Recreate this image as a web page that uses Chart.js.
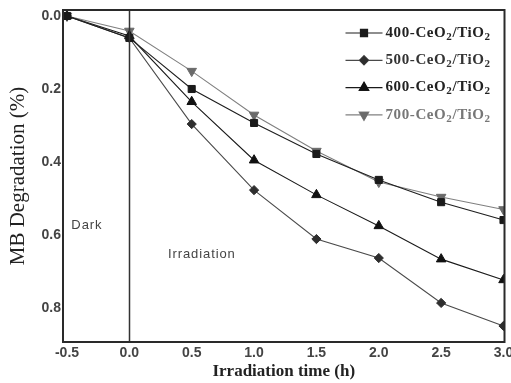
<!DOCTYPE html>
<html>
<head>
    <title>MB Degradation</title>
    <script src="https://cdn.jsdelivr.net/npm/chart.js"></script>
    <style>
        body { margin: 0; background: #fff; }
        #wrap { width: 511px; height: 383px; }
    </style>
</head>
<body>
    <div id="wrap"><canvas id="chart" width="511" height="383"></canvas></div>
    <script>
        const times = [-0.5, 0.0, 0.5, 1.0, 1.5, 2.0, 2.5, 3.0];
        const xTicks = [-0.5, 0.0, 0.5, 1.0, 1.5, 2.0, 2.5, 3.0];
        const yTicks = [0.0, 0.2, 0.4, 0.6, 0.8];
        const labels = ['400-CeO₂/TiO₂', '500-CeO₂/TiO₂', '600-CeO₂/TiO₂', '700-CeO₂/TiO₂'];
        const s400 = [0.0, 0.06, 0.20, 0.293, 0.378, 0.449, 0.51, 0.559];
        const s500 = [0.0, 0.06, 0.296, 0.477, 0.611, 0.663, 0.786, 0.849];
        const s600 = [0.0, 0.055, 0.235, 0.395, 0.49, 0.575, 0.666, 0.723];
        const s700 = [0.0, 0.041, 0.151, 0.271, 0.37, 0.455, 0.496, 0.53];

        function pts(vals) {
            return vals.map((v, i) => ({ x: times[i], y: v }));
        }

        // writes a label, dropping the ₂ characters down as small subscripts
        function subText(ctx, text, x, y, size) {
            const parts = text.split('₂');
            const serif = '"Liberation Serif", "Times New Roman", serif';
            parts.forEach((p, i) => {
                ctx.font = 'bold ' + size + 'px ' + serif;
                ctx.fillText(p, x, y);
                x += ctx.measureText(p).width;
                if (i < parts.length - 1) {
                    ctx.font = 'bold ' + Math.round(size * 0.72) + 'px ' + serif;
                    ctx.fillText('2', x, y + 4);
                    x += ctx.measureText('2').width;
                }
            });
        }

        // frame, divider line, text notes and legend
        const extras = {
            id: 'extras',
            afterDatasetsDraw(chart) {
                const ctx = chart.ctx;
                const a = chart.chartArea;
                const xs = chart.scales.x, ys = chart.scales.y;
                ctx.save();
                // divider between dark and irradiation
                ctx.strokeStyle = '#333';
                ctx.lineWidth = 1.5;
                const x0 = Math.round(xs.getPixelForValue(0)) + 0.5;
                ctx.beginPath();
                ctx.moveTo(x0, a.top);
                ctx.lineTo(x0, a.bottom);
                ctx.stroke();
                // frame
                ctx.lineWidth = 2;
                ctx.strokeStyle = '#2a2a2a';
                ctx.strokeRect(a.left, a.top, a.right - a.left, a.bottom - a.top);

                // notes
                ctx.fillStyle = '#444';
                ctx.font = '13px Arial, "Liberation Sans", sans-serif';
                ctx.letterSpacing = '0.9px';
                ctx.textBaseline = 'middle';
                ctx.textAlign = 'left';
                ctx.fillText('Dark', xs.getPixelForValue(-0.465), ys.getPixelForValue(0.575));
                ctx.fillText('Irradiation', xs.getPixelForValue(0.31), ys.getPixelForValue(0.652));

                // legend
                const textCols = ['#222', '#333', '#222', '#777'];
                chart.data.datasets.forEach((ds, i) => {
                    const y = a.top + 23 + i * 27.3;
                    const lx1 = a.right - 159, lx2 = a.right - 122;
                    ctx.strokeStyle = ds.borderColor;
                    ctx.lineWidth = 1.2;
                    ctx.beginPath();
                    ctx.moveTo(lx1, y);
                    ctx.lineTo(lx2, y);
                    ctx.stroke();
                    Chart.helpers.drawPoint(ctx, {
                        pointStyle: ds.pointStyle,
                        rotation: ds.pointRotation || 0,
                        radius: ds.pointRadius,
                        borderWidth: 1
                    }, (lx1 + lx2) / 2, y);
                    ctx.fillStyle = ds.pointBackgroundColor;
                    ctx.fill();
                    ctx.fillStyle = textCols[i];
                    ctx.textBaseline = 'middle';
                    ctx.letterSpacing = '0.6px';
                    subText(ctx, ds.label, lx2 + 3, y, 15);
                });
                ctx.restore();
            }
        };

        const tickFont = { family: 'Arial, "Liberation Sans", sans-serif', size: 14, weight: 'bold' };

        new Chart(document.getElementById('chart'), {
            type: 'line',
            data: {
                datasets: [
                    { label: labels[0], data: pts(s400), borderColor: '#1e1e1e', pointBackgroundColor: '#1a1a1a', pointBorderColor: '#1a1a1a', pointStyle: 'rect', pointRadius: 5 },
                    { label: labels[1], data: pts(s500), borderColor: '#4a4a4a', pointBackgroundColor: '#2e2e2e', pointBorderColor: '#2e2e2e', pointStyle: 'rectRot', pointRadius: 4.6 },
                    { label: labels[2], data: pts(s600), borderColor: '#1a1a1a', pointBackgroundColor: '#111', pointBorderColor: '#111', pointStyle: 'triangle', pointRadius: 5.5 },
                    { label: labels[3], data: pts(s700), borderColor: '#808080', pointBackgroundColor: '#6a6a6a', pointBorderColor: '#6a6a6a', pointStyle: 'triangle', pointRotation: 180, pointRadius: 5.5 }
                ].map(d => Object.assign({ borderWidth: 1.1, pointBorderWidth: 1, fill: false, tension: 0 }, d))
            },
            options: {
                responsive: false,
                animation: false,
                layout: { padding: { top: 10, right: 4, left: 0, bottom: 0 } },
                plugins: { legend: { display: false }, tooltip: { enabled: false } },
                scales: {
                    x: {
                        type: 'linear',
                        min: -0.532,
                        max: 3.008,
                        afterBuildTicks: s => { s.ticks = xTicks.map(v => ({ value: v })); },
                        // let the "3.0" label run to the canvas edge, as in the original
                        afterFit: s => { s.height = 41; s.paddingRight = 0; s.paddingLeft = 0; },
                        grid: { display: false, drawTicks: false },
                        border: { display: false },
                        ticks: { font: tickFont, color: '#444', padding: 3, maxRotation: 0, callback: v => v.toFixed(1) },
                        title: {
                            display: true,
                            text: 'Irradiation time (h)',
                            font: { family: '"Liberation Serif", "Times New Roman", serif', size: 17, weight: 'bold' },
                            color: '#222',
                            padding: { top: 0, bottom: 1 }
                        }
                    },
                    y: {
                        type: 'linear',
                        reverse: true,
                        min: -0.0164,
                        max: 0.893,
                        afterBuildTicks: s => { s.ticks = yTicks.map(v => ({ value: v })); },
                        afterFit: s => { s.width = 63; s.paddingTop = 0; s.paddingBottom = 0; },
                        grid: { display: false, drawTicks: false },
                        border: { display: false },
                        ticks: { font: tickFont, color: '#444', padding: 2, callback: v => v.toFixed(1) },
                        title: {
                            display: true,
                            text: 'MB Degradation (%)',
                            font: { family: '"Liberation Serif", "Times New Roman", serif', size: 21 },
                            color: '#222',
                            padding: { top: 6, bottom: 0 }
                        }
                    }
                }
            },
            plugins: [extras]
        });
    </script>
</body>
</html>
